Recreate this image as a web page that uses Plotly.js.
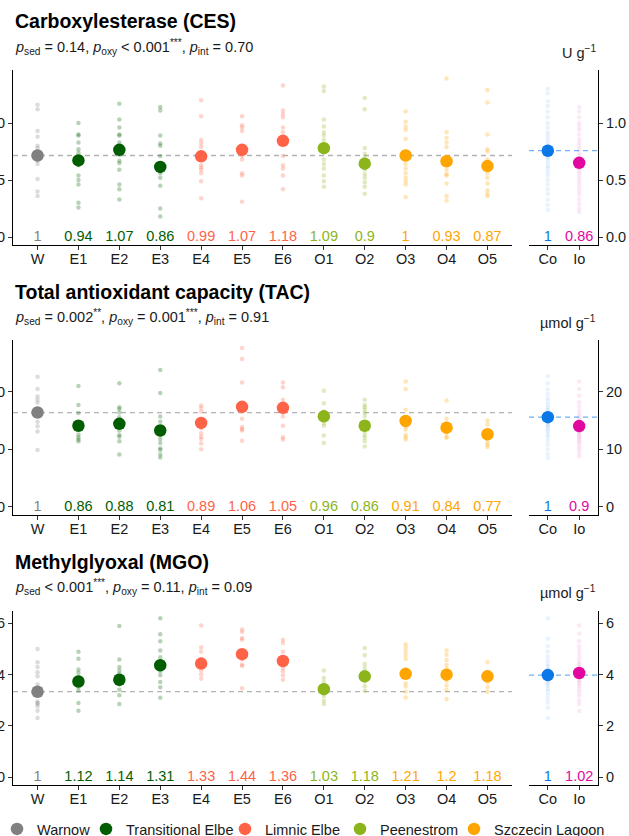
<!DOCTYPE html>
<html>
<head>
<meta charset="utf-8">
<script src="https://cdn.plot.ly/plotly-3.0.1.min.js"></script>
<style>
  html, body { margin: 0; padding: 0; background: #ffffff; }
  #chart { width: 629px; height: 836px; }
</style>
</head>
<body>
<div id="chart"></div>
<script>
// ---- categories -------------------------------------------------------
const sites = ['W', 'E1', 'E2', 'E3', 'E4', 'E5', 'E6', 'O1', 'O2', 'O3', 'O4', 'O5'];
const oxyLevels = ['Co', 'Io'];
const groupNames = ['Warnow', 'Transitional Elbe', 'Limnic Elbe', 'Peenestrom', 'Szczecin Lagoon'];
const groupSites = [['W'], ['E1', 'E2', 'E3'], ['E4', 'E5', 'E6'], ['O1', 'O2'], ['O3', 'O4', 'O5']];
const groupColors = ['#808080', '#005E00', '#FF6347', '#8BB51B', '#FFA500'];
const oxyColors = ['#0A78E6', '#E2079F'];

// ---- Carboxylesterase (CES), U g-1 ---------------------------------------
const cesRefMean = 0.715;           // Warnow mean
const cesRatio = [1, 0.94, 1.07, 0.86, 0.99, 1.07, 1.18, 1.09, 0.9, 1, 0.93, 0.87];
const cesCoMean = 0.757;
const cesIoRatio = 0.86;
const cesPoints = [
  [1.16, 1.12, 0.93, 0.88, 0.80, 0.78, 0.75, 0.70, 0.67, 0.64, 0.51, 0.40, 0.36],
  [1.00, 0.90, 0.89, 0.83, 0.77, 0.74, 0.68, 0.63, 0.54, 0.50, 0.46, 0.30, 0.26],
  [1.17, 1.03, 0.96, 0.90, 0.89, 0.83, 0.77, 0.72, 0.67, 0.65, 0.59, 0.46, 0.42, 0.33],
  [1.14, 1.11, 0.89, 0.82, 0.80, 0.71, 0.60, 0.56, 0.52, 0.45, 0.25, 0.18],
  [1.20, 1.06, 0.85, 0.82, 0.79, 0.74, 0.68, 0.63, 0.61, 0.59, 0.56, 0.49, 0.34],
  [1.06, 0.98, 0.96, 0.93, 0.78, 0.73, 0.71, 0.68, 0.56, 0.54, 0.31],
  [1.33, 1.11, 1.08, 1.05, 0.96, 0.92, 0.71, 0.63, 0.60, 0.54, 0.42],
  [1.32, 1.28, 1.03, 0.97, 0.92, 0.89, 0.85, 0.80, 0.68, 0.64, 0.60, 0.54, 0.49, 0.44],
  [1.22, 1.12, 0.78, 0.73, 0.70, 0.65, 0.59, 0.55, 0.52, 0.48, 0.44, 0.38],
  [1.10, 1.01, 0.97, 0.94, 0.86, 0.72, 0.64, 0.60, 0.56, 0.52, 0.49, 0.46, 0.35],
  [1.39, 0.92, 0.87, 0.83, 0.79, 0.70, 0.59, 0.55, 0.54, 0.47, 0.36, 0.32],
  [1.29, 1.18, 0.90, 0.77, 0.75, 0.68, 0.56, 0.52, 0.47, 0.41, 0.38, 0.36]
];
const cesCoPoints = [1.30, 1.26, 1.19, 1.15, 1.10, 1.05, 1.00, 0.96, 0.92, 0.89, 0.86, 0.83, 0.80, 0.78, 0.76,
  0.74, 0.72, 0.70, 0.68, 0.65, 0.62, 0.60, 0.57, 0.54, 0.50, 0.46, 0.42, 0.38, 0.33, 0.28, 0.24];
const cesIoPoints = [1.14, 1.10, 1.05, 1.00, 0.97, 0.94, 0.90, 0.86, 0.83, 0.80, 0.77, 0.74, 0.71, 0.68, 0.66,
  0.64, 0.62, 0.60, 0.58, 0.55, 0.52, 0.49, 0.46, 0.43, 0.40, 0.37, 0.33, 0.29, 0.25, 0.22];

// ---- Total antioxidant capacity (TAC), µmol g-1 --------------------------
const tacRefMean = 16.4;
const tacRatio = [1, 0.86, 0.88, 0.81, 0.89, 1.06, 1.05, 0.96, 0.86, 0.91, 0.84, 0.77];
const tacCoMean = 15.6;
const tacIoRatio = 0.9;
const tacPoints = [
  [22.6, 20.5, 19.2, 18.6, 18.1, 16.8, 16.2, 14.8, 14.0, 13.1, 9.9],
  [21.0, 17.7, 16.3, 14.6, 13.6, 12.6, 12.1, 11.7, 11.4],
  [21.5, 17.3, 17.0, 16.4, 15.6, 14.6, 14.0, 13.3, 12.5, 12.2, 11.4, 9.1],
  [23.8, 19.8, 15.7, 14.8, 13.6, 12.6, 11.8, 11.1, 10.2, 9.9, 9.1, 8.6],
  [17.6, 17.2, 16.6, 15.0, 14.1, 13.7, 12.8, 12.2, 11.8, 11.0, 10.0],
  [27.6, 25.7, 21.6, 18.0, 17.5, 16.6, 15.3, 13.9, 13.5, 13.3, 11.5],
  [21.6, 20.8, 18.6, 17.6, 17.0, 16.4, 15.7, 14.1, 12.1, 11.7],
  [20.2, 18.0, 16.6, 15.8, 15.2, 14.6, 14.1, 12.4, 11.1],
  [18.6, 17.7, 17.3, 16.9, 16.3, 15.7, 14.2, 13.1, 12.5, 12.0, 11.4, 10.5],
  [21.8, 20.5, 16.9, 15.5, 14.5, 13.9, 13.4, 12.5, 12.1, 11.7],
  [18.5, 15.3, 14.5, 14.0, 13.5, 12.9, 12.2, 12.0],
  [15.0, 14.3, 13.0, 12.5, 11.8, 11.2, 10.8, 10.4]
];
const tacCoPoints = [22.7, 21.5, 20.4, 19.6, 18.9, 18.3, 17.7, 17.2, 16.8, 16.4, 16.0, 15.7, 15.4, 15.1,
  14.8, 14.5, 14.2, 13.9, 13.5, 13.1, 12.6, 12.1, 11.5, 10.8, 10.0, 9.2, 8.5];
const tacIoPoints = [21.8, 20.5, 19.3, 18.2, 17.4, 16.7, 16.1, 15.6, 15.1, 14.7, 14.3, 13.9, 13.6, 13.3,
  13.0, 12.7, 12.4, 12.1, 11.8, 11.4, 11.0, 10.5, 10.0, 9.4, 8.8];

// ---- Methylglyoxal (MGO), µmol g-1 ----------------------------------------
const mgoRefMean = 3.33;
const mgoRatio = [1, 1.12, 1.14, 1.31, 1.33, 1.44, 1.36, 1.03, 1.18, 1.21, 1.2, 1.18];
const mgoCoMean = 3.98;
const mgoIoRatio = 1.02;
const mgoPoints = [
  [5.00, 4.48, 4.29, 4.09, 3.93, 3.61, 3.30, 3.20, 2.95, 2.89, 2.85, 2.76, 2.59, 2.30],
  [4.89, 4.62, 4.20, 4.07, 3.90, 3.70, 3.60, 3.50, 3.37, 2.89, 2.59],
  [5.89, 4.59, 4.29, 4.16, 4.03, 3.80, 3.70, 3.61, 3.41, 3.19, 2.85],
  [6.20, 5.57, 5.30, 4.94, 4.68, 4.50, 4.40, 4.30, 4.13, 3.97, 3.71, 3.50, 3.09],
  [5.91, 5.06, 4.89, 4.60, 4.40, 4.30, 4.16, 4.00, 3.84],
  [5.76, 5.66, 5.43, 5.36, 4.80, 4.60, 4.39, 4.33, 3.47],
  [5.36, 5.23, 4.89, 4.60, 4.50, 4.26, 4.13, 3.97, 3.80],
  [4.16, 3.87, 3.71, 3.50, 3.40, 3.30, 3.15, 2.98, 2.85],
  [5.04, 4.75, 4.41, 4.26, 4.00, 3.90, 3.80, 3.73, 3.54, 3.37],
  [5.18, 5.05, 4.90, 4.75, 4.61, 4.10, 4.00, 3.90, 3.66, 3.53, 3.33, 3.10],
  [4.94, 4.77, 4.57, 4.38, 4.24, 4.00, 3.90, 3.75, 3.57, 3.40, 3.05],
  [4.48, 4.10, 3.90, 3.80, 3.70, 3.50, 3.33]
];
const mgoCoPoints = [6.2, 5.4, 5.1, 4.9, 4.7, 4.55, 4.4, 4.3, 4.2, 4.1, 4.02, 3.95, 3.88, 3.8, 3.72,
  3.64, 3.55, 3.45, 3.35, 3.2, 3.05, 2.9, 2.7, 2.29];
const mgoIoPoints = [5.91, 5.6, 5.3, 5.1, 4.95, 4.8, 4.65, 4.5, 4.4, 4.3, 4.2, 4.12, 4.05, 3.98, 3.9,
  3.82, 3.74, 3.65, 3.55, 3.44, 3.32, 3.18, 3.0, 2.85, 2.58];

// ---- panel texts & scales ------------------------------------------------
const panelTitles = ['Carboxylesterase (CES)', 'Total antioxidant capacity (TAC)', 'Methylglyoxal (MGO)'];
const panelStats = [
  '<i>p</i><sub>sed</sub> = 0.14, <i>p</i><sub>oxy</sub> &lt; 0.001<sup>***</sup>, <i>p</i><sub>int</sub> = 0.70',
  '<i>p</i><sub>sed</sub> = 0.002<sup>**</sup>, <i>p</i><sub>oxy</sub> = 0.001<sup>***</sup>, <i>p</i><sub>int</sub> = 0.91',
  '<i>p</i><sub>sed</sub> &lt; 0.001<sup>***</sup>, <i>p</i><sub>oxy</sub> = 0.11, <i>p</i><sub>int</sub> = 0.09'
];
const panelUnits = ['U g<sup>−1</sup>', 'µmol g<sup>−1</sup>', 'µmol g<sup>−1</sup>'];

const panels = [
  { ref: cesRefMean, ratio: cesRatio, co: cesCoMean, io: cesIoRatio, pts: cesPoints, coPts: cesCoPoints, ioPts: cesIoPoints,
    range: [-0.07, 1.465], dtick: 0.5, fmt: '.1f' },
  { ref: tacRefMean, ratio: tacRatio, co: tacCoMean, io: tacIoRatio, pts: tacPoints, coPts: tacCoPoints, ioPts: tacIoPoints,
    range: [-1.4, 29.0], dtick: 10, fmt: 'd' },
  { ref: mgoRefMean, ratio: mgoRatio, co: mgoCoMean, io: mgoIoRatio, pts: mgoPoints, coPts: mgoCoPoints, ioPts: mgoIoPoints,
    range: [-0.31, 6.48], dtick: 2, fmt: 'd' }
];

// ---- geometry (pixels in a 629 x 836 figure) ------------------------------
const W = 629, H = 836;
const mainX = [13 / W, 512 / W];
const sideX = [529 / W, 598 / W];
const rowsPx = [[70, 245], [340, 515], [611, 785]];       // top, bottom of each plot row
const titleY = [21, 292, 562];
const statY = [47, 317, 587];
const unitY = [52, 322, 592];
const legendLeftPx = [-3, 86, 225, 340, 454];             // one legend box per water body
const legendMidPx = 829;

const FONT = 'Liberation Sans, Arial, Helvetica, sans-serif';
const TXT = '#1a1a1a';

function siteGroup(s) {
  return groupSites.findIndex(g => g.includes(s));
}
function legendId(g) {
  return g === 0 ? 'legend' : 'legend' + (g + 1);
}

const traces = [];
const shapes = [];
const annotations = [];
const layout = {
  width: W, height: H,
  margin: { l: 0, r: 0, t: 0, b: 0, autoexpand: false },
  paper_bgcolor: '#ffffff',
  plot_bgcolor: '#ffffff',
  font: { family: FONT, size: 14.5, color: TXT },
  showlegend: true,
  hovermode: false
};
groupNames.forEach((n, g) => {
  layout[legendId(g)] = {
    orientation: 'h', x: legendLeftPx[g] / W, xanchor: 'left', y: 1 - legendMidPx / H, yanchor: 'middle',
    font: { family: FONT, size: 14.5, color: TXT }, bgcolor: 'rgba(0,0,0,0)',
    itemclick: false, itemdoubleclick: false
  };
});

panels.forEach((p, i) => {
  const xm = 'x' + (2 * i + 1), xs = 'x' + (2 * i + 2);
  const ym = 'y' + (2 * i + 1), ys = 'y' + (2 * i + 2);
  const sfx = (n) => (n === 1 ? '' : String(n));
  const yDom = [1 - rowsPx[i][1] / H, 1 - rowsPx[i][0] / H];

  const axCommon = {
    showline: true, linecolor: '#000', linewidth: 1.1, mirror: false,
    ticks: 'outside', ticklen: 4, tickwidth: 1, tickcolor: '#333',
    tickfont: { family: FONT, size: 14.5, color: TXT },
    showgrid: false, zeroline: false, fixedrange: true
  };

  layout['xaxis' + sfx(2 * i + 1)] = Object.assign({}, axCommon, {
    domain: mainX, anchor: ym, type: 'category', ticklabelstandoff: -4,
    categoryorder: 'array', categoryarray: sites, range: [-0.6, sites.length - 0.4]
  });
  layout['xaxis' + sfx(2 * i + 2)] = Object.assign({}, axCommon, {
    domain: sideX, anchor: ys, type: 'category', ticklabelstandoff: -4,
    categoryorder: 'array', categoryarray: oxyLevels, range: [-0.6, oxyLevels.length - 0.4]
  });
  layout['yaxis' + sfx(2 * i + 1)] = Object.assign({}, axCommon, {
    domain: yDom, anchor: xm, side: 'left', range: p.range, tick0: 0, dtick: p.dtick, tickformat: p.fmt
  });
  layout['yaxis' + sfx(2 * i + 2)] = Object.assign({}, axCommon, {
    domain: yDom, anchor: xs, side: 'right', range: p.range, tick0: 0, dtick: p.dtick, tickformat: p.fmt
  });

  // reference level (Warnow mean) and control-oxygen level
  shapes.push({
    type: 'line', layer: 'below', xref: xm + ' domain', yref: ym, x0: 0, x1: 1, y0: p.ref, y1: p.ref,
    line: { color: '#B3B3B3', width: 1.3, dash: '5px,4px' }
  });
  shapes.push({
    type: 'line', layer: 'below', xref: xs + ' domain', yref: ys, x0: 0, x1: 1, y0: p.co, y1: p.co,
    line: { color: '#6FB3F5', width: 1.3, dash: '5px,4px' }
  });

  // individual samples per water body
  groupSites.forEach((gs, g) => {
    const xs_ = [], ys_ = [];
    gs.forEach(s => {
      const k = sites.indexOf(s);
      p.pts[k].forEach(v => { xs_.push(s); ys_.push(v); });
    });
    traces.push({
      type: 'scatter', mode: 'markers', x: xs_, y: ys_, xaxis: xm, yaxis: ym,
      marker: { color: groupColors[g], size: 4.5, opacity: 0.28, line: { width: 0 } },
      showlegend: false, hoverinfo: 'skip'
    });
  });
  // site means
  groupSites.forEach((gs, g) => {
    traces.push({
      type: 'scatter', mode: 'markers', x: gs,
      y: gs.map(s => p.ref * p.ratio[sites.indexOf(s)]),
      xaxis: xm, yaxis: ym,
      marker: { color: groupColors[g], size: 12.5, line: { width: 0 } },
      name: groupNames[g], legend: legendId(g), showlegend: i === 0,
      hoverinfo: 'skip'
    });
  });

  // ratios to the Warnow mean, printed along the baseline
  traces.push({
    type: 'scatter', mode: 'text', x: sites, y: sites.map(() => 0), xaxis: xm, yaxis: ym,
    text: p.ratio.map(v => String(v)), textposition: 'middle center', cliponaxis: false,
    textfont: { family: FONT, size: 14.5, color: sites.map(s => groupColors[siteGroup(s)]) },
    showlegend: false, hoverinfo: 'skip'
  });

  // pooled samples by oxygen treatment
  [p.coPts, p.ioPts].forEach((arr, o) => {
    traces.push({
      type: 'scatter', mode: 'markers', x: arr.map(() => oxyLevels[o]), y: arr, xaxis: xs, yaxis: ys,
      marker: { color: oxyColors[o], size: 4.5, opacity: 0.09, line: { width: 0 } },
      showlegend: false, hoverinfo: 'skip'
    });
  });
  const oxyRatio = [1, p.io];
  traces.push({
    type: 'scatter', mode: 'markers', x: oxyLevels, y: oxyRatio.map(r => p.co * r), xaxis: xs, yaxis: ys,
    marker: { color: oxyColors, size: 12.5, line: { width: 0 } },
    showlegend: false, hoverinfo: 'skip'
  });
  traces.push({
    type: 'scatter', mode: 'text', x: oxyLevels, y: [0, 0], xaxis: xs, yaxis: ys,
    text: oxyRatio.map(v => String(v)), textposition: 'middle center', cliponaxis: false,
    textfont: { family: FONT, size: 14.5, color: oxyColors },
    showlegend: false, hoverinfo: 'skip'
  });

  // panel heading, statistics line, unit
  annotations.push({
    xref: 'paper', yref: 'paper', x: 13 / W, y: 1 - titleY[i] / H, xanchor: 'left', yanchor: 'middle',
    text: '<b>' + panelTitles[i] + '</b>', showarrow: false,
    font: { family: FONT, size: 19.5, color: '#000' }
  });
  annotations.push({
    xref: 'paper', yref: 'paper', x: 13 / W, y: 1 - statY[i] / H, xanchor: 'left', yanchor: 'middle',
    text: panelStats[i], showarrow: false,
    font: { family: FONT, size: 14.5, color: TXT }
  });
  annotations.push({
    xref: 'paper', yref: 'paper', x: 598 / W, y: 1 - unitY[i] / H, xanchor: 'right', yanchor: 'middle',
    text: panelUnits[i], showarrow: false,
    font: { family: FONT, size: 14.5, color: TXT }
  });
});

layout.shapes = shapes;
layout.annotations = annotations;

Plotly.newPlot('chart', traces, layout, { displayModeBar: false, staticPlot: true });
</script>
</body>
</html>
